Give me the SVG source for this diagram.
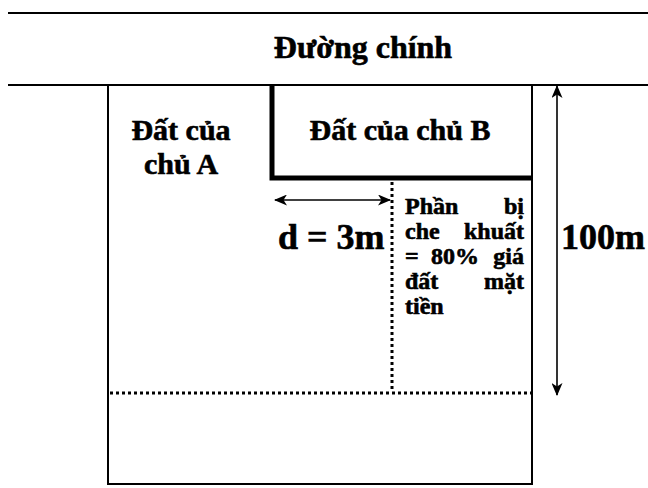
<svg xmlns="http://www.w3.org/2000/svg" width="648" height="488" viewBox="0 0 648 488">
<style>
.t{font-family:"Liberation Serif","Times New Roman",serif;font-weight:bold;fill:#000;stroke:#000;stroke-width:0.6}
.ln{stroke:#000;stroke-width:2;fill:none}
.thick{stroke:#000;stroke-width:5;fill:none}
.dot{stroke:#000;stroke-width:3;stroke-dasharray:3 3;fill:none}
.arr{stroke:#000;stroke-width:1.6;fill:none}
</style>
<defs>
<marker id="ah" viewBox="0 0 13 11" refX="12" refY="5.5" markerWidth="13" markerHeight="11" markerUnits="userSpaceOnUse" orient="auto-start-reverse">
<path d="M0,0 L13,5.5 L0,11 L3.5,5.5 Z" fill="#000"/>
</marker>
</defs>
<rect width="648" height="488" fill="#fff"/>
<g id="road">
<line class="ln" x1="8" y1="13" x2="648" y2="13"/>
<line class="ln" x1="8" y1="85" x2="648" y2="85"/>
<text class="t" x="363" y="58" font-size="32" text-anchor="middle">Đường chính</text>
</g>
<g id="lotA">
<polyline class="ln" points="108,85 108,484 532,484 532,85"/>
<text class="t" x="181" y="140" font-size="30" text-anchor="middle">Đất của</text>
<text class="t" x="181" y="174" font-size="30" text-anchor="middle">chủ A</text>
</g>
<g id="lotB">
<polyline class="thick" points="272,85 272,178 532,178"/>
<text class="t" x="400" y="140" font-size="30" text-anchor="middle">Đất của chủ B</text>
</g>
<g id="hidden">
<line class="dot" x1="392" y1="182" x2="392" y2="392"/>
<line class="dot" x1="110" y1="393" x2="532" y2="393"/>
<g class="t" font-size="24">
<text x="405" y="214">Phần</text><text x="524" y="214" text-anchor="end">bị</text>
<text x="405" y="239">che</text><text x="524" y="239" text-anchor="end">khuất</text>
<text x="405" y="264">=</text><text x="431" y="264">80%</text><text x="524" y="264" text-anchor="end">giá</text>
<text x="405" y="289">đất</text><text x="524" y="289" text-anchor="end">mặt</text>
<text x="405" y="314">tiền</text>
</g>
</g>
<g id="connectors">
<line class="arr" x1="275" y1="200" x2="390" y2="200" marker-start="url(#ah)" marker-end="url(#ah)"/>
<line class="arr" x1="557" y1="86" x2="557" y2="395" marker-start="url(#ah)" marker-end="url(#ah)"/>
</g>
<g id="labels">
<text class="t" x="278" y="249" font-size="36">d = 3m</text>
<text class="t" x="561" y="249" font-size="36">100m</text>
</g>
</svg>
